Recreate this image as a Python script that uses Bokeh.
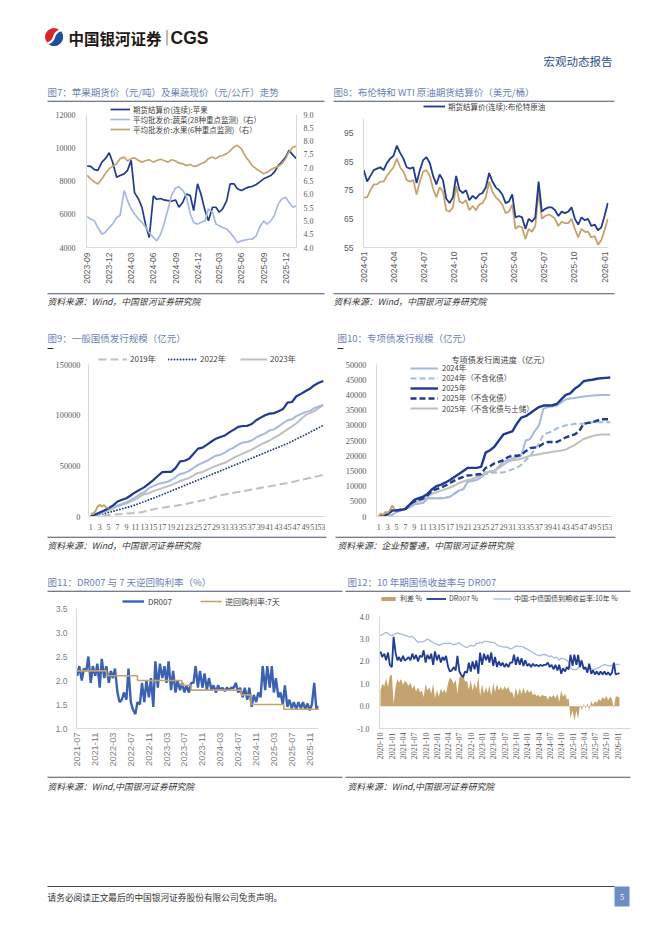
import numpy as np
import pandas as pd
from bokeh.plotting import figure
from bokeh.models import (Range1d, LinearAxis, FixedTicker, DatetimeTickFormatter,
                          PrintfTickFormatter, Legend, Label, Spacer)
from bokeh.layouts import column, row
from bokeh.core.properties import value
from bokeh.embed import file_html
from bokeh.resources import INLINE

# ======================= DATA =======================
# Fig 7: semi-monthly observations (1st & 15th) from 2023-09-01
c7_start = "2023-09-01"
c7_apple = [8900, 8880, 8680, 8640, 9140, 9340, 9700, 9140, 8230, 8330, 8430, 8640,
            9250, 7300, 6900, 6400, 5300, 4600, 7100, 6900, 6950, 6860, 6820, 6780,
            6860, 6420, 6720, 7220, 7120, 6220, 7830, 7220, 6220, 5610, 6420, 6420,
            6120, 6320, 6820, 7830, 7830, 7530, 7430, 7530, 7630, 7670, 7790, 7930,
            8130, 8230, 8330, 8530, 8940, 9140, 9440, 9840, 9540, 9340]
c7_veg = [5.16, 5.07, 5.00, 4.75, 4.50, 4.57, 4.75, 4.88, 5.13, 5.20, 6.14, 5.76,
          5.45, 5.26, 5.07, 4.94, 4.75, 4.56, 4.38, 4.25, 4.50, 4.88, 5.45, 5.95,
          6.24, 6.29, 6.14, 5.95, 5.26, 4.94, 4.88, 4.94, 5.00, 5.45, 5.32, 4.88,
          4.82, 4.75, 4.69, 4.56, 4.38, 4.19, 4.25, 4.28, 4.31, 4.31, 4.44, 4.75,
          5.00, 4.88, 5.00, 5.20, 5.64, 5.82, 5.89, 5.70, 5.51, 5.57]
c7_fruit = [6.71, 6.58, 6.46, 6.39, 6.58, 6.77, 6.96, 7.05, 7.15, 7.34, 7.40, 7.25,
            7.34, 7.37, 7.27, 7.21, 7.27, 7.30, 7.21, 7.27, 7.32, 7.27, 7.21, 7.30,
            7.25, 7.17, 7.15, 7.08, 7.12, 7.05, 7.08, 7.15, 7.21, 7.34, 7.40, 7.34,
            7.43, 7.46, 7.53, 7.63, 7.78, 7.84, 7.71, 7.46, 7.27, 7.08, 6.96, 6.87,
            6.77, 6.83, 6.92, 7.00, 7.05, 7.15, 7.34, 7.59, 7.78, 7.80]
c7_xticks = ["2023-09-01", "2023-12-01", "2024-03-01", "2024-06-01", "2024-09-01",
             "2024-12-01", "2025-03-01", "2025-06-01", "2025-09-01", "2025-12-01"]
c7_lticks = [4000, 6000, 8000, 10000, 12000]
c7_rticks = [4.0, 4.5, 5.0, 5.5, 6.0, 6.5, 7.0, 7.5, 8.0, 8.5, 9.0]

# Fig 8: observations every 10 days from 2024-01-02
c8_start = "2024-01-02"
c8_brent = [82, 78, 80, 82, 82.5, 83, 82, 84.5, 86, 87, 90.5, 88, 86, 83, 82.5, 83,
            77.5, 82, 85.5, 86.5, 84.5, 80, 77, 80.5, 78.5, 72, 70.5, 72.5, 80, 75,
            74, 75, 71.5, 73, 72, 73.5, 74, 76, 81, 78, 76, 75, 73.5, 70.5, 71, 73.5,
            65.5, 66, 65.5, 61.5, 65, 64, 65.5, 78, 67.5, 68.5, 69, 69, 68, 66, 67.5,
            67, 67.5, 69, 65, 63, 65.5, 64.5, 65, 62.5, 63, 61, 62, 66, 70.5]
c8_wti = [72.5, 72.5, 75, 77, 77, 78, 78, 80, 81.5, 83, 86, 83, 81.5, 78.5, 78, 78.5,
          73.5, 78, 81.5, 82, 80, 75.5, 72.5, 76, 74.5, 68, 67.5, 69, 76.5, 71,
          70.5, 71.5, 68, 69.5, 68, 70, 70.5, 72.5, 78, 74.5, 72.5, 71.5, 70, 67, 67.5, 70,
          61.5, 62.5, 62, 58, 61.5, 60.5, 62.5, 74.5, 65, 66, 66.5, 66, 65, 62.5, 64,
          63.5, 63.5, 65, 61.5, 58.5, 61.5, 60.5, 60.5, 58.5, 59, 56, 57.5, 61, 65]
c8_xticks = ["2024-01-01", "2024-04-01", "2024-07-01", "2024-10-01", "2025-01-01",
             "2025-04-01", "2025-07-01", "2025-10-01", "2026-01-01"]
c8_yticks = [55, 65, 75, 85, 95]

# Fig 9: cumulative general government bond issuance by week (100m yuan)
c9_2025 = [0, 2000, 4000, 6000, 8200, 11000, 14800, 16500, 18000, 21000, 24000, 26500,
           29000, 32500, 36000, 40000, 43800, 44000, 44000, 48000, 54400, 55000, 57000,
           62000, 67000, 68000, 71000, 74000, 76800, 78500, 80000, 83000, 85700, 88500,
           89300, 89500, 91300, 95000, 97600, 100000, 101500, 102000, 103800, 106000,
           112400, 113000, 118700, 121000, 123600, 126000, 129600, 132000, 133800]
c9_2024 = [0, 1500, 3000, 5000, 8000, 9500, 11000, 12500, 14000, 16500, 19000, 22000,
           24000, 28000, 30000, 32000, 33000, 34000, 36000, 39000, 42000, 43000, 45000,
           48000, 51000, 53000, 55000, 57500, 60000, 61000, 63000, 66000, 68000, 71000,
           73000, 73500, 75000, 78000, 80000, 82000, 85000, 86000, 89000, 92000, 95000,
           96000, 99000, 101000, 103000, 104000, 107000, 108500, 110000]
c9_2023 = [0, 1500, 3000, 4500, 6000, 8000, 10000, 11500, 13000, 15000, 17000, 19500,
           22000, 23000, 25000, 26500, 28000, 29500, 31000, 33000, 35000, 36500, 38000,
           40500, 43000, 44000, 46000, 48000, 50000, 51500, 53000, 55500, 58000, 60000,
           62000, 64000, 66000, 68500, 71000, 73000, 75000, 77500, 80000, 83000, 86000,
           89000, 92000, 96000, 100000, 102000, 104000, 107000, 110000]
c9_2022_w = [1, 5, 10, 15, 20, 25, 30, 35, 40, 45, 50, 53]
c9_2022 = [0, 4000, 10000, 18000, 27000, 36000, 45000, 54000, 63000, 72000, 83000, 90000]
c9_2019_w = [1, 5, 8, 12, 16, 22, 27, 30, 35, 40, 45, 50, 53]
c9_2019 = [0, 1500, 2500, 4000, 8000, 12000, 17000, 21000, 25000, 29000, 33000, 38000, 41000]
c9_2026_w = [1, 1.5, 2, 2.5, 3, 3.5, 4, 4.5, 5]
c9_2026 = [3000, 2500, 5000, 9500, 11500, 10000, 11000, 9000, 8500]
c9_yticks = [0, 50000, 100000, 150000]

# Fig 10: cumulative special bond issuance by week (100m yuan)
c10_2024 = [0, 0, 0, 500, 1500, 2000, 2500, 3000, 4000, 4200, 4500, 6000, 6000, 6000,
            6000, 6200, 6500, 7500, 8500, 9000, 11500, 11700, 12000, 13000, 14500, 14800,
            15000, 16500, 18000, 18500, 19000, 19500, 20000, 25000, 25500, 28000, 30000,
            35500, 36000, 36200, 36500, 37500, 38500, 38800, 39000, 39200, 39500, 39600,
            39800, 39900, 40000, 40000, 40000]
c10_2024x = [0, 0, 0, 500, 1500, 2000, 2500, 3000, 4000, 4200, 4500, 6000, 6000, 6000,
             6000, 6200, 6500, 7500, 8500, 9000, 11500, 11700, 12000, 13000, 14000, 14200,
             14500, 14500, 14500, 15000, 15500, 16000, 17000, 18500, 20000, 22000, 24000,
             27000, 27500, 28000, 29000, 29500, 30000, 30200, 30500, 30500, 30500, 30700,
             31000, 31000, 31000, 31000, 31000]
c10_2025 = [0, 200, 800, 2000, 2000, 2200, 2500, 4000, 5500, 6000, 6500, 7500, 9000,
            10000, 10500, 11200, 12000, 13000, 14000, 15000, 16000, 16000, 16000, 16300,
            21000, 21800, 23000, 25000, 27000, 27500, 28000, 30500, 32500, 33000, 34000,
            35000, 36000, 36500, 36500, 36600, 37000, 38500, 40000, 40500, 42000, 43000,
            44500, 44800, 45000, 45300, 45500, 45600, 45700]
c10_2025x = [0, 200, 800, 2000, 2000, 2200, 2500, 4000, 5000, 5500, 6000, 7000, 8500,
             9000, 9500, 10200, 11000, 11800, 12500, 13000, 13500, 13600, 13800, 14000,
             16000, 16500, 17500, 18000, 18500, 19500, 20000, 20000, 20200, 21500, 22500,
             22700, 23000, 24000, 24500, 24500, 24500, 25200, 26000, 26500, 27000, 28000,
             30500, 30800, 31000, 31500, 32000, 32000, 32000]
c10_2025xl = [0, 200, 800, 1800, 1900, 2100, 2400, 3500, 4500, 5000, 5500, 6500, 7500,
              8000, 8500, 9000, 9500, 10200, 11000, 11500, 12000, 12300, 13000, 13500,
              14500, 14800, 15000, 16000, 17000, 18000, 18500, 18700, 19000, 19500, 20000,
              20200, 20500, 20800, 21000, 21300, 21500, 21700, 22000, 22800, 23500, 24500,
              25500, 26000, 26500, 26800, 27000, 27000, 27000]
c10_2026_w = [1, 1.5, 2, 2.5, 3, 3.5, 4, 4.5]
c10_2026 = [0, 1000, 500, 1500, 1200, 2000, 3600, 2500]
c10_yticks = [0, 5000, 10000, 15000, 20000, 25000, 30000, 35000, 40000, 45000, 50000]
week_ticks = list(range(1, 54, 2))

# Fig 11/12: DR007 and 10Y CGB yield, semi-monthly from 2020-10-01
dr_start = "2020-10-01"
dr007 = [2.45, 2.20, 2.35, 2.05, 2.40, 1.85,
         1.75, 3.10, 2.35, 2.05, 2.20, 2.00, 2.25, 2.05, 2.10, 2.20, 2.05, 2.35,
         2.10, 2.30, 2.00, 2.25, 2.20, 2.50, 1.95, 2.30, 2.10, 2.35, 1.85, 2.45,
         2.05, 2.30, 1.95, 2.20, 2.05, 2.25, 1.75, 1.55, 1.60, 1.75, 1.60, 2.25,
         1.55, 1.40, 1.30, 1.55, 1.50, 1.95, 1.55, 2.00, 1.65, 2.05, 1.45, 2.40,
         1.85, 2.35, 2.05, 2.30, 1.95, 2.40, 1.80, 2.20, 1.75, 2.00, 1.80, 1.95,
         1.75, 1.90, 1.75, 1.95, 1.95, 2.30, 1.85, 2.20, 1.85, 2.15, 1.80, 2.05,
         1.80, 1.90, 1.75, 1.90, 1.80, 1.85, 1.78, 1.85, 1.80, 1.85, 1.85, 1.95,
         1.75, 1.85, 1.65, 1.85, 1.60, 1.85, 1.45, 1.70, 1.55, 1.75, 1.65, 2.30,
         1.80, 2.30, 1.85, 2.30, 1.75, 2.05, 1.65, 1.75, 1.50, 1.90, 1.45, 1.60,
         1.42, 1.55, 1.40, 1.55, 1.42, 1.55, 1.40, 1.52, 1.38, 1.50, 1.95, 1.42,
         1.45, 1.48]
cgb10y = [3.15, 3.20, 3.25, 3.30, 3.25, 3.20,
          3.15, 3.20, 3.25, 3.28, 3.25, 3.22, 3.20, 3.18, 3.15, 3.10, 3.10, 3.12,
          3.05, 2.95, 2.85, 2.88, 2.88, 2.90, 2.95, 3.00, 2.95, 2.90, 2.85, 2.80,
          2.78, 2.72, 2.75, 2.80, 2.80, 2.82, 2.80, 2.83, 2.78, 2.75, 2.77, 2.80,
          2.83, 2.76, 2.70, 2.65, 2.63, 2.68, 2.72, 2.70, 2.70, 2.82, 2.80, 2.86,
          2.82, 2.90, 2.90, 2.89, 2.88, 2.86, 2.85, 2.82, 2.75, 2.70, 2.68, 2.65,
          2.64, 2.65, 2.62, 2.56, 2.58, 2.65, 2.68, 2.68, 2.66, 2.68, 2.64, 2.60,
          2.55, 2.50, 2.45, 2.40, 2.35, 2.30, 2.28, 2.25, 2.32, 2.30, 2.30, 2.25,
          2.22, 2.25, 2.15, 2.20, 2.15, 2.05, 2.15, 2.12, 2.10, 2.05, 1.98, 1.75,
          1.62, 1.65, 1.63, 1.72, 1.80, 1.88, 1.75, 1.65, 1.63, 1.70, 1.68, 1.65,
          1.64, 1.70, 1.72, 1.78, 1.82, 1.86, 1.85, 1.80, 1.80, 1.82, 1.84, 1.85,
          1.88, 1.85]
rr_dates = ["2021-06-26", "2022-01-17", "2022-08-15", "2023-06-13", "2023-08-15",
            "2024-07-22", "2024-09-27", "2025-05-08", "2026-01-15"]
rr_rate = [2.2, 2.1, 2.0, 1.9, 1.8, 1.7, 1.5, 1.4, 1.4]
c11_xticks = ["2021-07-01", "2021-11-01", "2022-03-01", "2022-07-01", "2022-11-01",
              "2023-03-01", "2023-07-01", "2023-11-01", "2024-03-01", "2024-07-01",
              "2024-11-01", "2025-03-01", "2025-07-01", "2025-11-01"]
c11_yticks = [1.0, 1.5, 2.0, 2.5, 3.0, 3.5]
c12_tick_start, c12_tick_end = "2020-10-01", "2026-01-01"
c12_yticks = [-1.0, 0.0, 1.0, 2.0, 3.0, 4.0]

# ======================= STYLE =======================
NAVY = "#1F3A8F"
LBLUE = "#A6B9DF"
TAN = "#C4A36E"
GRAY = "#BFBFBF"
MBLUE = "#3B62B0"
TITLE_C = "#6A82B6"
RULE_C = "#46506E"
TXT = "#333333"
TICK_C = "#595959"
CJK = "Noto Sans CJK SC"
SERIF = "Liberation Serif"
SANS = "Liberation Sans"
PAGE_W = 662


def ms(d):
    return pd.Timestamp(d).value / 1e6


def deco(h, top):
    p = figure(width=PAGE_W, height=h, x_range=Range1d(0, PAGE_W), y_range=Range1d(top + h, top),
               output_backend="svg", toolbar_location=None, min_border=0,
               x_axis_location=None, y_axis_location=None)
    p.grid.visible = False
    p.outline_line_color = None
    return p


def txt(p, x, y, s, size, color, font=CJK, style="normal", align="left"):
    p.text(x=[x], y=[y], text=[s], text_font=value(font), text_font_size=value(f"{size}px"),
           text_color=color, text_font_style=style, text_align=align, text_baseline="middle")


def rule(p, x0, x1, y, color=RULE_C, w=1.1):
    p.segment(x0=[x0], y0=[y], x1=[x1], y1=[y], line_color=color, line_width=w)


def chart(w, h, l, r, t, b, **kw):
    p = figure(width=w, height=h, min_border_left=l, min_border_right=r,
               min_border_top=t, min_border_bottom=b, output_backend="svg",
               toolbar_location=None, **kw)
    p.grid.visible = False
    p.outline_line_color = None
    return p


def style_axis(ax, font, size, standoff, color=TICK_C, bounds=None):
    ax.axis_line_color = "#D9D9D9"
    ax.major_tick_line_color = None
    ax.minor_tick_line_color = None
    ax.major_tick_out = 0
    ax.major_tick_in = 0
    ax.minor_tick_out = 0
    ax.major_label_text_font = font
    ax.major_label_text_font_size = f"{size}px"
    ax.major_label_text_color = color
    ax.major_label_standoff = standoff
    if bounds is not None:
        ax.bounds = bounds


def date_fmt():
    f = "%Y-%m"
    return DatetimeTickFormatter(years=f, months=f, days=f, hours=f, hourmin=f,
                                 minutes=f, minsec=f, seconds=f, milliseconds=f)


LH = 12  # fixed legend item height


def leg(p, frame, label, rend, x_page, yc_page, gw, standoff=3, size=7.5, gh=10):
    """one legend entry: glyph starts at x_page, vertically centred on yc_page (page px)."""
    fl, fb = frame
    lg = Legend(items=[(label, [rend])], location=(x_page - fl, fb - yc_page - LH / 2),
                orientation="horizontal", border_line_color=None, background_fill_alpha=0,
                padding=0, margin=0, spacing=0, glyph_width=gw, glyph_height=gh,
                label_height=LH, label_standoff=standoff, label_text_font=CJK,
                label_text_font_size=f"{size}px", label_text_color="#404040")
    p.add_layout(lg)


# ======================= HEADER =======================
hdr = deco(84, 0)
cx, cy, rr = 53.5, 36.5, 9.0
hdr.circle(x=[cx], y=[cy], radius=rr, fill_color="#D9262C", line_color=None)
ang = np.linspace(np.pi / 4, -3 * np.pi / 4, 40)
hdr.patch(x=cx + rr * np.cos(ang), y=cy - rr * np.sin(ang), fill_color="#1D4FA0", line_color=None)
hdr.bezier(x0=[cx + 6.8], y0=[cy - 6.8], x1=[cx - 6.8], y1=[cy + 6.8], cx0=[cx - 4], cy0=[cy - 3],
           cx1=[cx + 4], cy1=[cy + 3], line_color="white", line_width=2.4)
hdr.text(x=[68], y=[37], text=["中国银河证券"], text_font=value(CJK), text_font_size=value("15.5px"),
         text_font_style="bold", text_color="#231815", text_baseline="middle")
hdr.segment(x0=[166.5], y0=[29.5], x1=[166.5], y1=[45], line_color="#777777", line_width=1)
hdr.text(x=[170], y=[37.5], text=["CGS"], text_font=value(SANS), text_font_size=value("17.5px"),
         text_font_style="bold", text_color="#231815", text_baseline="middle")
txt(hdr, 543, 60, "宏观动态报告", 11.5, "#2C4C8C")

# ======================= ROW A =======================
ta = deco(18, 84)
txt(ta, 47, 91.7, "图7：苹果期货价（元/吨）及果蔬现价（元/公斤）走势", 9.5, TITLE_C)
txt(ta, 333, 91.7, "图8：布伦特和 WTI 原油期货结算价（美元/桶）", 9.5, TITLE_C)
rule(ta, 47, 324, 100.7)
rule(ta, 333, 614, 100.7)

# ---- Fig 7 ---- (frame 86..296 x 102..247; 12000 sits at y=114)
F7 = (86, 247)
d7 = pd.date_range(c7_start, periods=len(c7_apple), freq="SMS")
p7 = chart(330, 188, 86, 34, 0, 43, x_axis_type="datetime",
           x_range=Range1d(ms("2023-08-29"), ms("2026-01-15")),
           y_range=Range1d(4000, 12000 + 12 * 8000 / 133))
p7.extra_y_ranges = {"r": Range1d(4.0, 9.0 + 12 * 5.0 / 133)}
p7.add_layout(LinearAxis(y_range_name="r"), "right")
r7a = p7.line(d7, c7_apple, line_color=NAVY, line_width=1.7)
r7b = p7.line(d7[:len(c7_veg)], c7_veg, line_color=LBLUE, line_width=1.7, y_range_name="r")
r7c = p7.line(d7[:len(c7_fruit)], c7_fruit, line_color=TAN, line_width=1.7, y_range_name="r")
p7.xaxis.ticker = FixedTicker(ticks=[ms(d) for d in c7_xticks])
p7.xaxis.formatter = date_fmt()
p7.xaxis.major_label_orientation = np.pi / 2
p7.yaxis[0].ticker = FixedTicker(ticks=c7_lticks)
p7.yaxis[0].formatter = PrintfTickFormatter(format="%d")
p7.yaxis[1].ticker = FixedTicker(ticks=c7_rticks)
p7.yaxis[1].formatter = PrintfTickFormatter(format="%.1f")
style_axis(p7.xaxis[0], SANS, 8.5, 5)
style_axis(p7.yaxis[0], SERIF, 8, 11, bounds=(4000, 12000))
style_axis(p7.yaxis[1], SERIF, 8, 7, bounds=(4.0, 9.0))
leg(p7, F7, "期货结算价(连续):苹果", r7a, 110, 109, 20)
leg(p7, F7, "平均批发价:蔬菜(28种重点监测)（右）", r7b, 110, 119, 20)
leg(p7, F7, "平均批发价:水果(6种重点监测)（右）", r7c, 110, 129, 20)

# ---- Fig 8 ---- (frame 363..608 x 102..253)
F8 = (363, 253)
d8 = pd.date_range(c8_start, periods=len(c8_brent), freq="10D")
p8 = chart(332, 188, 33, 54, 0, 37, x_axis_type="datetime",
           x_range=Range1d(ms("2024-01-01"), ms("2026-01-13")),
           y_range=Range1d(55, 55 + 151 / 2.985))
r8w = p8.line(d8[:len(c8_wti)], c8_wti, line_color=TAN, line_width=1.8)
r8b = p8.line(d8, c8_brent, line_color=NAVY, line_width=1.8)
p8.xaxis.ticker = FixedTicker(ticks=[ms(d) for d in c8_xticks])
p8.xaxis.formatter = date_fmt()
p8.xaxis.major_label_orientation = np.pi / 2
p8.yaxis.ticker = FixedTicker(ticks=c8_yticks)
style_axis(p8.xaxis[0], SANS, 8.5, 4)
style_axis(p8.yaxis[0], SANS, 8.5, 10, bounds=(55, 100))
leg(p8, F8, "期货结算价(连续):布伦特原油", r8b, 423, 112, 22)

sa = deco(20, 290)
rule(sa, 47, 324, 293.3)
rule(sa, 333, 614, 293.3)
txt(sa, 47, 300.7, "资料来源：Wind，中国银河证券研究院", 8.8, TXT, style="italic")
txt(sa, 333, 300.7, "资料来源：Wind，中国银河证券研究院", 8.8, TXT, style="italic")

# ======================= ROW B =======================
tb = deco(42, 310)
txt(tb, 47, 337.7, "图9：一般国债发行规模（亿元）", 9.5, TITLE_C)
txt(tb, 337, 337.7, "图10：专项债发行规模（亿元）", 9.5, TITLE_C)
rule(tb, 47, 53, 348, color="#333333")
rule(tb, 337, 343, 348, color="#333333")

# ---- Fig 9 ---- (frame 88..325 x 352..516; 150000 at y=364)
F9 = (88, 516)
p9 = chart(325, 182, 88, 0, 0, 18, x_range=Range1d(0.5, 53.5),
           y_range=Range1d(0, 150000 + 12 * 150000 / 152))
r9_19 = p9.line(c9_2019_w, c9_2019, line_color=GRAY, line_width=2, line_dash="8 4")
r9_22 = p9.line(c9_2022_w, c9_2022, line_color=NAVY, line_width=1.9, line_dash="0 3",
                line_cap="round")
r9_23 = p9.line(list(range(1, len(c9_2023) + 1)), c9_2023, line_color=GRAY, line_width=2)
p9.line(list(range(1, len(c9_2024) + 1)), c9_2024, line_color=LBLUE, line_width=2)
p9.line(list(range(1, len(c9_2025) + 1)), c9_2025, line_color=NAVY, line_width=2.2)
p9.line(c9_2026_w, c9_2026, line_color=TAN, line_width=2)
p9.xaxis.ticker = FixedTicker(ticks=week_ticks)
p9.yaxis.ticker = FixedTicker(ticks=c9_yticks)
p9.yaxis.formatter = PrintfTickFormatter(format="%d")
style_axis(p9.xaxis[0], SERIF, 8, 7)
style_axis(p9.yaxis[0], SERIF, 8.3, 8, bounds=(0, 150000))
leg(p9, F9, "2019年", r9_19, 98, 358.5, 29, size=8)
leg(p9, F9, "2022年", r9_22, 168, 358.5, 29, size=8)
leg(p9, F9, "2023年", r9_23, 240, 358.5, 27, size=8)

# ---- Fig 10 ---- (frame 376..612 x 352..516; 50000 at y=364)
F10 = (376, 516)
p10 = chart(282, 182, 46, 0, 0, 18, x_range=Range1d(0.5, 53.5),
            y_range=Range1d(0, 50000 + 12 * 50000 / 152))


def wk(a):
    return list(range(1, len(a) + 1))


r10a = p10.line(wk(c10_2024), c10_2024, line_color=LBLUE, line_width=2)
r10b = p10.line(wk(c10_2024x), c10_2024x, line_color=LBLUE, line_width=2, line_dash="6 3")
r10e = p10.line(wk(c10_2025xl), c10_2025xl, line_color=GRAY, line_width=2)
r10d = p10.line(wk(c10_2025x), c10_2025x, line_color=NAVY, line_width=2.4, line_dash="6 3")
r10c = p10.line(wk(c10_2025), c10_2025, line_color=NAVY, line_width=2.4)
p10.line(c10_2026_w, c10_2026, line_color=TAN, line_width=2)
p10.xaxis.ticker = FixedTicker(ticks=week_ticks)
p10.yaxis.ticker = FixedTicker(ticks=c10_yticks)
p10.yaxis.formatter = PrintfTickFormatter(format="%d")
style_axis(p10.xaxis[0], SERIF, 8, 7)
style_axis(p10.yaxis[0], SERIF, 8.3, 10, bounds=(0, 50000))
for lab, rd, yc in [("2024年", r10a, 367.7), ("2024年（不含化债）", r10b, 377.7),
                    ("2025年", r10c, 387.7), ("2025年（不含化债）", r10d, 397.7),
                    ("2025年（不含化债与土储）", r10e, 408.2)]:
    leg(p10, F10, lab, rd, 410, yc, 28, standoff=4, size=7.5)
p10.add_layout(Label(x=28.35, y=50000 + 6 * 50000 / 152, text="专项债发行周进度（亿元）",
                     text_font=CJK, text_font_size="8.2px", text_align="center",
                     text_baseline="middle", text_color="#404040"))

sb = deco(36, 534)
rule(sb, 47, 326, 536.7)
rule(sb, 335, 615, 536.7)
txt(sb, 47, 545, "资料来源：Wind，中国银河证券研究院", 8.8, TXT, style="italic")
txt(sb, 337, 545, "资料来源：企业预警通，中国银河证券研究院", 8.8, TXT, style="italic")

# ======================= ROW C =======================
tc = deco(23, 570)
txt(tc, 47, 581.7, "图11：DR007 与 7 天逆回购利率（%）", 9.5, TITLE_C)
txt(tc, 347, 581.7, "图12：10 年期国债收益率与 DR007", 9.5, TITLE_C)
rule(tc, 47, 342, 590.7)
rule(tc, 345, 630, 590.7)

ddr = pd.date_range(dr_start, periods=len(dr007), freq="SMS")

# ---- Fig 11 ---- (frame 76..318 x 593..728; 3.5 at y=608)
F11 = (76, 728)
p11 = chart(330, 182, 76, 12, 0, 47, x_axis_type="datetime",
            x_range=Range1d(ms("2021-06-26"), ms("2025-12-30")),
            y_range=Range1d(1.0, 3.5 + 15 * 2.5 / 120))
r11a = p11.line(ddr, dr007, line_color=MBLUE, line_width=2.4)
r11b = p11.step(pd.to_datetime(rr_dates), rr_rate, mode="after", line_color=TAN, line_width=1.6)
p11.xaxis.ticker = FixedTicker(ticks=[ms(d) for d in c11_xticks])
p11.xaxis.formatter = date_fmt()
p11.xaxis.major_label_orientation = np.pi / 2
p11.yaxis.ticker = FixedTicker(ticks=c11_yticks)
p11.yaxis.formatter = PrintfTickFormatter(format="%.1f")
style_axis(p11.xaxis[0], SANS, 9.3, 4, color="#7F7F7F")
style_axis(p11.yaxis[0], SANS, 8.5, 9, color="#7F7F7F", bounds=(1.0, 3.5))
leg(p11, F11, "DR007", r11a, 122, 601, 22, size=8, standoff=4)
leg(p11, F11, "逆回购利率:7天", r11b, 200, 601, 22, size=8, standoff=3)

# ---- Fig 12 ---- (frame 379..630 x 593..738; 4.0 at y=618)
F12 = (379, 738)
spread = np.array(cgb10y) - np.array(dr007)
p12 = chart(332, 182, 49, 32, 0, 37, x_axis_type="datetime",
            x_range=Range1d(ms("2020-09-23"), ms("2020-09-23") + 251 / 0.1237 * 86400000),
            y_range=Range1d(-1.0, 4.0 + 25 / 24))
r12a = p12.varea(x=ddr, y1=0, y2=spread, fill_color=TAN)
r12c = p12.line(ddr, cgb10y, line_color=LBLUE, line_width=1.3)
r12b = p12.line(ddr, dr007, line_color=NAVY, line_width=1.8)
p12.xaxis.ticker = FixedTicker(ticks=[ms(d) for d in pd.date_range(c12_tick_start, c12_tick_end, freq="3MS")])
p12.xaxis.formatter = date_fmt()
p12.xaxis.major_label_orientation = np.pi / 2
p12.yaxis.ticker = FixedTicker(ticks=c12_yticks)
p12.yaxis.formatter = PrintfTickFormatter(format="%.1f")
style_axis(p12.xaxis[0], SERIF, 8, 4)
style_axis(p12.yaxis[0], SERIF, 7.8, 10, bounds=(-1.0, 4.0))
leg(p12, F12, "利差 %", r12a, 379, 608, 18, size=7, gh=5)
leg(p12, F12, "DR007 %", r12b, 426, 608, 20, size=7, gh=5)
leg(p12, F12, "中国:中债国债到期收益率:10年 %", r12c, 493, 608, 18, size=7, gh=5)

# ======================= BOTTOM =======================
bt = deco(161, 775)
rule(bt, 47, 342, 776.7)
rule(bt, 345, 630, 776.7)
txt(bt, 47, 785.5, "资料来源：Wind,中国银河证券研究院", 8.8, TXT, style="italic")
txt(bt, 347, 785.5, "资料来源：Wind,中国银河证券研究院", 8.8, TXT, style="italic")
rule(bt, 47, 614, 886, color="#444444", w=1)
bt.quad(left=[614], right=[629], top=[886], bottom=[906], fill_color="#6F8CC4", line_color=None)
txt(bt, 621.5, 896.5, "5", 8.5, "white", font=SERIF, align="center")
txt(bt, 47, 896.5, "请务必阅读正文最后的中国银河证券股份有限公司免责声明。", 8.7, TXT)

page = column(
    hdr, ta,
    row(p7, p8, spacing=0),
    sa, tb,
    row(p9, Spacer(width=5, height=182), p10, Spacer(width=50, height=182), spacing=0),
    sb, tc,
    row(p11, p12, spacing=0),
    bt,
    spacing=0,
)

open("out.html", "w").write(file_html(page, INLINE))
